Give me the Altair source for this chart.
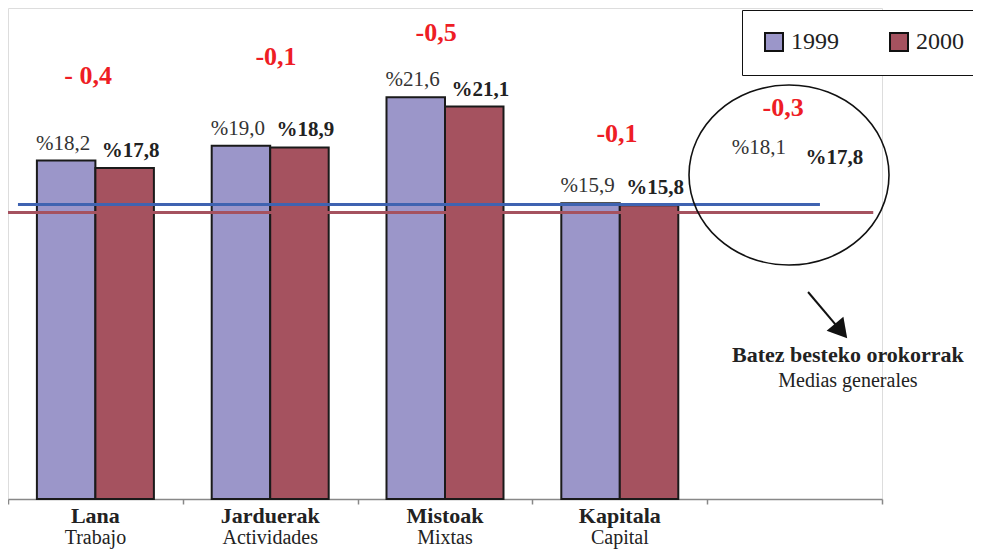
import altair as alt
import pandas as pd

# ---------------- data ----------------
categories = ["Lana", "Jarduerak", "Mistoak", "Kapitala", " "]
subtitles = ["Trabajo", "Actividades", "Mixtas", "Capital", ""]
years = ["1999", "2000"]
values_1999 = [18.2, 19.0, 21.6, 15.9]
values_2000 = [17.8, 18.9, 21.1, 15.8]

diff_labels = ["- 0,4", "-0,1", "-0,5", "-0,1", "-0,3"]
diff_x = [0.458, 1.533, 2.449, 3.484, 4.434]
diff_y = [22.74, 23.76, 25.05, 19.62, 21.02]

avg_labels = ["%18,1", "%17,8"]
avg_x = [4.296, 4.728]
avg_y = [18.87, 18.33]

line_years = ["1999", "2000"]
line_level = [15.83, 15.40]
line_start = [0.057, 0.0]
line_end = [4.645, 4.95]

ellipse_x = [4.468]
ellipse_y = [17.42]
arrow_x = [4.577]
arrow_x2 = [4.766]
arrow_y = [11.13]
arrow_y2 = [9.03]
note_lines = ["Batez besteko orokorrak", "Medias generales"]
note_x = [4.805, 4.805]
note_y = [7.74, 6.34]

# ---------------- tables ----------------
def fmt(v):
    return "%" + f"{v:.1f}".replace(".", ",")

bar_rows = []
for c, a, b in zip(categories, values_1999, values_2000):
    bar_rows.append({"cat": c, "year": "1999", "value": a, "label": fmt(a)})
    bar_rows.append({"cat": c, "year": "2000", "value": b, "label": fmt(b)})
bar_df = pd.DataFrame(bar_rows)
cat_df = pd.DataFrame({"cat": categories, "sub": subtitles, "zero": [0] * len(categories)})
diff_df = pd.DataFrame({"x": diff_x, "y": diff_y, "t": diff_labels})
avg_df = pd.DataFrame({"x": avg_x, "y": avg_y, "t": avg_labels, "w": ["normal", "bold"]})
line_df = pd.DataFrame({"year": line_years, "y": line_level, "x": line_start, "x2": line_end})
ell_df = pd.DataFrame({"x": ellipse_x, "y": ellipse_y})
arrow_df = pd.DataFrame({"x": arrow_x, "x2": arrow_x2, "y": arrow_y, "y2": arrow_y2})
note_df = pd.DataFrame({"x": note_x, "y": note_y, "t": note_lines})

# ---------------- style ----------------
FONT = "Liberation Serif"
C1999 = "#9B96C9"
C2000 = "#A5525F"
RED = "#EE1D25"

W, H = 874, 491
xband = alt.Scale(domain=categories, paddingInner=0, paddingOuter=0)
xoff = alt.Scale(domain=years, paddingInner=0, paddingOuter=0.494)
yscale = alt.Scale(domain=[0, 26.4], nice=False, zero=False)
xq = alt.Scale(domain=[0, 5], nice=False, zero=False)

bars = alt.Chart(bar_df).mark_bar(stroke="#1a1a1a", strokeWidth=2).encode(
    x=alt.X("cat:N", scale=xband, sort=categories,
            axis=alt.Axis(title=None, labels=False, tickBand="extent", ticks=True,
                          tickSize=5, tickColor="#888888", tickWidth=1.5,
                          domainColor="#888888", domainWidth=1.5, grid=False)),
    xOffset=alt.XOffset("year:N", scale=xoff),
    y=alt.Y("value:Q", scale=yscale, axis=None),
    color=alt.Color("year:N", scale=alt.Scale(domain=years, range=[C1999, C2000]),
                    legend=alt.Legend(orient="none", legendX=734, legendY=2,
                                      direction="horizontal", title=None,
                                      strokeColor="#111111", fillColor="white",
                                      padding=20, symbolType="square", symbolSize=324,
                                      symbolStrokeColor="#111111", symbolStrokeWidth=2,
                                      symbolOpacity=1,
                                      labelFont=FONT, labelFontSize=24, labelColor="#222222",
                                      labelOffset=5, columnPadding=47)),
)

lab1999 = alt.Chart(bar_df).transform_filter(alt.datum.year == "1999").mark_text(
    font=FONT, fontSize=21, color="#333333", baseline="alphabetic", dy=-11, dx=-3
).encode(
    x=alt.X("cat:N", scale=xband, axis=None),
    xOffset=alt.XOffset("year:N", scale=xoff),
    y=alt.Y("value:Q", scale=yscale, axis=None),
    text="label:N",
)
lab2000 = alt.Chart(bar_df).transform_filter(alt.datum.year == "2000").mark_text(
    font=FONT, fontSize=21, fontWeight="bold", color="#222222", baseline="alphabetic", dy=-11, dx=6
).encode(
    x=alt.X("cat:N", scale=xband, axis=None),
    xOffset=alt.XOffset("year:N", scale=xoff),
    y=alt.Y("value:Q", scale=yscale, axis=None),
    text="label:N",
)

cat_bold = alt.Chart(cat_df).mark_text(
    font=FONT, fontSize=22, fontWeight="bold", color="#222222", baseline="middle", dy=17
).encode(
    x=alt.X("cat:N", scale=xband, axis=None),
    y=alt.Y("zero:Q", scale=yscale, axis=None),
    text="cat:N",
)
cat_sub = alt.Chart(cat_df).mark_text(
    font=FONT, fontSize=20, color="#222222", baseline="middle", dy=39
).encode(
    x=alt.X("cat:N", scale=xband, axis=None),
    y=alt.Y("zero:Q", scale=yscale, axis=None),
    text="sub:N",
)

lines = alt.Chart(line_df).mark_rule(strokeWidth=3).encode(
    x=alt.X("x:Q", scale=xq, axis=None),
    x2="x2:Q",
    y=alt.Y("y:Q", scale=yscale, axis=None),
    color=alt.Color("year:N", scale=alt.Scale(domain=line_years, range=["#3F63B1", "#A5525F"]),
                    legend=None),
)

diffs = alt.Chart(diff_df).mark_text(
    font=FONT, fontSize=26, fontWeight="bold", color=RED, baseline="middle"
).encode(
    x=alt.X("x:Q", scale=xq, axis=None),
    y=alt.Y("y:Q", scale=yscale, axis=None),
    text="t:N",
)

avg_reg = alt.Chart(avg_df).transform_filter(alt.datum.w == "normal").mark_text(
    font=FONT, fontSize=21, color="#333333", baseline="middle"
).encode(
    x=alt.X("x:Q", scale=xq, axis=None),
    y=alt.Y("y:Q", scale=yscale, axis=None),
    text="t:N",
)
avg_bold = alt.Chart(avg_df).transform_filter(alt.datum.w == "bold").mark_text(
    font=FONT, fontSize=21, fontWeight="bold", color="#222222", baseline="middle"
).encode(
    x=alt.X("x:Q", scale=xq, axis=None),
    y=alt.Y("y:Q", scale=yscale, axis=None),
    text="t:N",
)

ellipse = alt.Chart(ell_df).mark_point(
    shape="M-1,0 A1,0.9 0 1,0 1,0 A1,0.9 0 1,0 -1,0 Z",
    size=40000, filled=False, stroke="#111111", strokeWidth=1.6, opacity=1,
).encode(
    x=alt.X("x:Q", scale=xq, axis=None),
    y=alt.Y("y:Q", scale=yscale, axis=None),
)

arrow_line = alt.Chart(arrow_df).mark_rule(color="#111111", strokeWidth=2).encode(
    x=alt.X("x:Q", scale=xq, axis=None),
    x2="x2:Q",
    y=alt.Y("y:Q", scale=yscale, axis=None),
    y2="y2:Q",
)
arrow_head = alt.Chart(arrow_df).mark_point(
    shape="triangle-up", angle=140, size=480, filled=True, color="#111111", opacity=1
).encode(
    x=alt.X("x2:Q", scale=xq, axis=None),
    y=alt.Y("y2:Q", scale=yscale, axis=None),
)

note_bold = alt.Chart(note_df.iloc[[0]]).mark_text(
    font=FONT, fontSize=22, fontWeight="bold", color="#222222", baseline="middle"
).encode(
    x=alt.X("x:Q", scale=xq, axis=None),
    y=alt.Y("y:Q", scale=yscale, axis=None),
    text="t:N",
)
note_reg = alt.Chart(note_df.iloc[[1]]).mark_text(
    font=FONT, fontSize=20, color="#222222", baseline="middle"
).encode(
    x=alt.X("x:Q", scale=xq, axis=None),
    y=alt.Y("y:Q", scale=yscale, axis=None),
    text="t:N",
)

chart = alt.layer(
    bars, lines, lab1999, lab2000, cat_bold, cat_sub, diffs, avg_reg, avg_bold,
    ellipse, arrow_line, arrow_head, note_bold, note_reg,
).resolve_scale(
    x="independent", color="independent"
).properties(
    width=W, height=H,
    autosize=alt.AutoSizeParams(type="none"),
    padding={"left": 0, "top": 0, "right": 91, "bottom": 50},
).configure_view(stroke=None).configure(background="white")

chart.save("out.html", embed_options={"renderer": "svg", "actions": False})
